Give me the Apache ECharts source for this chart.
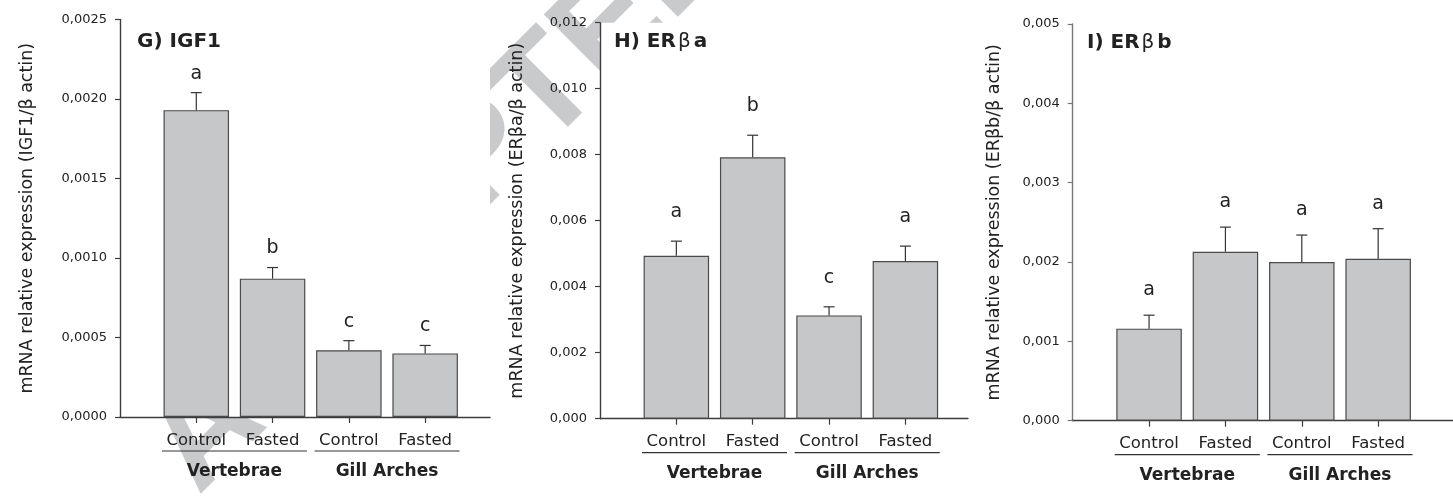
<!DOCTYPE html>
<html>
<head>
<meta charset="utf-8">
<script src="https://cdn.jsdelivr.net/npm/echarts@6/dist/echarts.min.js"></script>
<style>
  html, body { margin: 0; padding: 0; background: #fff; }
  #chart { width: 1453px; height: 497px; }
</style>
</head>
<body>
<div id="chart"></div>
<script>
// x categories and the two tissue groups
const conditions = ['Control', 'Fasted', 'Control', 'Fasted']
const tissues = ['Vertebrae', 'Gill Arches']

// G) IGF1
const igf1Mean = [0.00193, 0.00087, 0.00042, 0.00040]
const igf1Sem = [0.00011, 0.00007, 0.00006, 0.00005]
const igf1Letters = ['a', 'b', 'c', 'c']

// H) ERβa
const erbaMean = [0.00494, 0.00792, 0.00313, 0.00478]
const erbaSem = [0.00044, 0.00067, 0.00026, 0.00045]
const erbaLetters = ['a', 'b', 'c', 'a']

// I) ERβb
const erbbMean = [0.00116, 0.00213, 0.00200, 0.00204]
const erbbSem = [0.00017, 0.00031, 0.00034, 0.00038]
const erbbLetters = ['a', 'a', 'a', 'a']

const FONT = '"DejaVu Sans", sans-serif'
const INK = '#222'
const AXIS = '#3c3c3c'

const panels = [
  {
    mean: igf1Mean, sem: igf1Sem, letters: igf1Letters,
    grid: { left: 120, top: 19.5, width: 370, height: 397.5 },
    xMax: 4.85, yMax: 0.0025, yStep: 0.0005, decimals: 4, yColor: AXIS,
    yName: 'mRNA relative expression (IGF1/β actin)', nameGap: 84,
    title: '{b|G) IGF1}', titlePos: [137, 32], letterGap: 19,
  },
  {
    mean: erbaMean, sem: erbaSem, letters: erbaLetters,
    grid: { left: 600, top: 22.7, width: 368, height: 396 },
    xMax: 4.82, yMax: 0.012, yStep: 0.002, decimals: 3, yColor: AXIS,
    yName: 'mRNA relative expression (ERβa/β actin)', nameGap: 74,
    title: '{b|H) ER}{g|β}{b|a}', titlePos: [614, 32], letterGap: 29,
  },
  {
    mean: erbbMean, sem: erbbSem, letters: erbbLetters,
    grid: { left: 1072.7, top: 24, width: 380.3, height: 396.7 },
    xMax: 4.98, yMax: 0.005, yStep: 0.001, decimals: 3, yColor: '#777',
    yName: 'mRNA relative expression (ERβb/β actin)', nameGap: 69,
    title: '{b|I) ER}{g|β}{b|b}', titlePos: [1087, 33], letterGap: 25,
  },
]

const grids = []
const xAxes = []
const yAxes = []
const series = []
const titles = []

panels.forEach((p, i) => {
  // white plot area, it also hides the stamp behind it
  grids.push(Object.assign({
    show: true, backgroundColor: '#fff', borderWidth: 0, containLabel: false,
  }, p.grid))

  xAxes.push({
    gridIndex: i,
    type: 'value',
    min: 0,
    max: p.xMax,
    splitLine: { show: false },
    axisLine: { lineStyle: { color: AXIS, width: 1.4 } },
    axisTick: { customValues: [1, 2, 3, 4], length: 6, lineStyle: { color: AXIS, width: 1.2 } },
    axisLabel: {
      customValues: [1, 2, 3, 4],
      formatter: v => conditions[v - 1],
      margin: 15,
      color: INK,
      fontFamily: FONT,
      fontSize: 16.5,
    },
  })

  yAxes.push({
    gridIndex: i,
    type: 'value',
    min: 0,
    max: p.yMax,
    interval: p.yStep,
    splitLine: { show: false },
    axisLine: { show: true, lineStyle: { color: p.yColor, width: 1.4 } },
    axisTick: { show: true, length: 5, lineStyle: { color: p.yColor, width: 1.2 } },
    axisLabel: {
      margin: 13,
      color: INK,
      fontFamily: FONT,
      fontSize: 13,
      formatter: v => v.toFixed(p.decimals).replace('.', ','),
    },
    name: p.yName,
    nameLocation: 'middle',
    nameGap: p.nameGap,
    nameTextStyle: { color: INK, fontFamily: FONT, fontSize: 17.5 },
  })

  series.push({
    type: 'bar',
    xAxisIndex: i,
    yAxisIndex: i,
    barWidth: 65.5,
    data: p.mean.map((v, j) => [j + 1, v]),
    itemStyle: { color: '#c6c7c9', borderColor: '#4a4a4a', borderWidth: 1.2 },
    z: 3,
  })

  // error bars (upper only) with the significance letters
  series.push({
    type: 'custom',
    xAxisIndex: i,
    yAxisIndex: i,
    clip: false,
    z: 4,
    data: p.mean.map((v, j) => [j + 1, v, p.sem[j]]),
    renderItem: (params, api) => {
      const x = api.value(0)
      const m = api.value(1)
      const e = api.value(2)
      const base = api.coord([x, m])
      const top = api.coord([x, m + e])
      const style = { stroke: '#333', lineWidth: 1.2 }
      return {
        type: 'group',
        children: [
          { type: 'line', shape: { x1: base[0], y1: base[1], x2: top[0], y2: top[1] }, style },
          { type: 'line', shape: { x1: top[0] - 5.5, y1: top[1], x2: top[0] + 5.5, y2: top[1] }, style },
          {
            type: 'text',
            x: top[0],
            y: top[1] - p.letterGap,
            style: {
              text: p.letters[params.dataIndex],
              align: 'center',
              verticalAlign: 'middle',
              font: '19px ' + FONT,
              fill: INK,
            },
          },
        ],
      }
    },
  })

  // tissue group underline + name
  series.push({
    type: 'custom',
    xAxisIndex: i,
    yAxisIndex: i,
    clip: false,
    silent: true,
    data: [[1.5, 0], [3.5, 0]],
    renderItem: (params, api) => {
      const x = api.value(0)
      const a = api.coord([x - 0.95, 0])
      const b = api.coord([x + 0.95, 0])
      const c = api.coord([x, 0])
      return {
        type: 'group',
        children: [
          { type: 'line', shape: { x1: a[0], y1: a[1] + 34, x2: b[0], y2: b[1] + 34 }, style: { stroke: '#333', lineWidth: 1.2 } },
          {
            type: 'text',
            x: c[0],
            y: c[1] + 54.5,
            style: {
              text: tissues[params.dataIndex],
              align: 'center',
              verticalAlign: 'middle',
              font: 'bold 17px ' + FONT,
              fill: INK,
            },
          },
        ],
      }
    },
  })

  titles.push({
    left: p.titlePos[0],
    top: p.titlePos[1],
    padding: 0,
    text: p.title,
    textStyle: {
      rich: {
        b: { fontFamily: FONT, fontWeight: 'bold', fontSize: 20, color: INK },
        g: { fontFamily: FONT, fontWeight: 'normal', fontSize: 20, color: INK, padding: [0, 3, 0, 2] },
      },
    },
  })
})

const chart = echarts.init(document.getElementById('chart'), null, { renderer: 'canvas' })
chart.setOption({
  animation: false,
  backgroundColor: '#fff',
  title: titles,
  grid: grids,
  xAxis: xAxes,
  yAxis: yAxes,
  series,
  // faint diagonal "ACCEPTED MANUSCRIPT" stamp, only seen outside the plot areas
  graphic: [{
    type: 'text',
    silent: true,
    z: -10,
    x: 171,
    y: 469,
    rotation: Math.PI / 4,
    style: {
      text: 'ACCEPTED MANUSCRIPT',
      font: 'bold 140px "Liberation Sans", Arial, sans-serif',
      fill: '#c9cacc',
      align: 'left',
      verticalAlign: 'middle',
    },
  }],
})
</script>
</body>
</html>
